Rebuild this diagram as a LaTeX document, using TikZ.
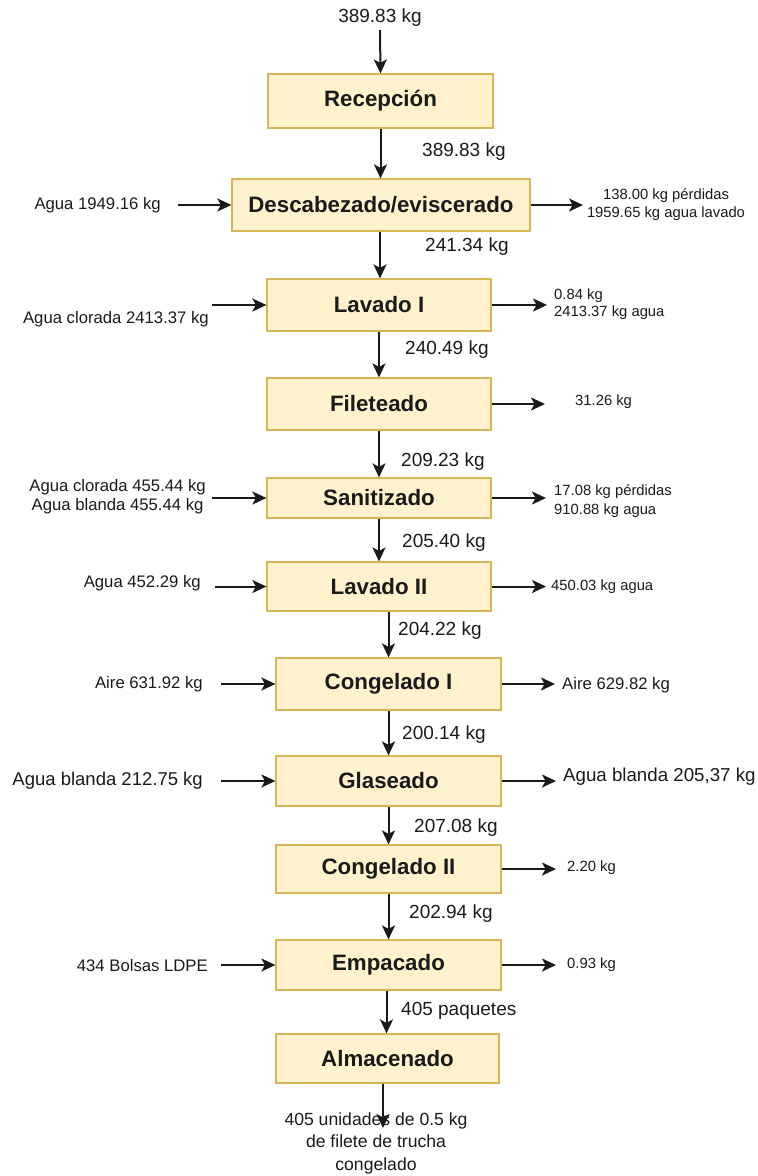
\documentclass[tikz,border=0pt]{standalone}
\usepackage{fontspec}
\setmainfont{Liberation Sans}
\usetikzlibrary{arrows.meta}
\definecolor{boxfill}{HTML}{FFF2CC}
\definecolor{boxline}{HTML}{D6B656}
\definecolor{ink}{HTML}{1A1A1A}
\begin{document}
\begin{tikzpicture}[x=1pt,y=-1pt,
  stage/.style={draw=boxline, fill=boxfill, line width=1.2pt, inner sep=0pt,
    minimum width=225pt, minimum height=52pt,
    font=\fontsize{22.3}{26}\selectfont\bfseries, text=ink},
  flow/.style={draw=ink, line width=2pt, -{Stealth[length=14pt,width=13pt,inset=3.5pt]}},
  qty/.style={font=\fontsize{19}{22}\selectfont, inner sep=0pt, text=ink},
  inlab/.style={font=\fontsize{16.7}{20}\selectfont, inner sep=0pt, text=ink, anchor=east, align=center},
  outlab/.style={font=\fontsize{14.8}{18}\selectfont, inner sep=0pt, text=ink, anchor=west, align=left},
]
\useasboundingbox (0,0) rectangle (758,1176);

% process stages
\node[stage, minimum height=54pt] (rec) at (380.5,101) {Recepción};
\node[stage, minimum width=298pt] (desc) at (381,205) {Descabezado/eviscerado};
\node[stage, minimum width=224pt] (lav1) at (379,305) {Lavado I};
\node[stage, minimum width=224pt] (fil) at (379,404) {Fileteado};
\node[stage, minimum width=224pt, minimum height=40pt] (san) at (379,498) {Sanitizado};
\node[stage, minimum width=224pt, minimum height=49pt] (lav2) at (379,586.5) {Lavado II};
\node[stage] (cong1) at (388.5,684) {Congelado I};
\node[stage, minimum height=50pt] (glas) at (388.5,781) {Glaseado};
\node[stage, minimum height=48pt] (cong2) at (388.5,869) {Congelado II};
\node[stage, minimum height=50pt] (emp) at (388.5,965) {Empacado};
\node[stage, minimum width=223pt, minimum height=49pt] (alm) at (387.5,1058.5) {Almacenado};

% main product flow
\node[qty, inner sep=3pt] (raw) at (380,18) {389.83 kg};
\draw[flow] (raw.south) -- (rec.north);
\draw[flow] (rec.south) -- (desc.north -| rec.south);
\node[qty, anchor=west] (q1) at (422,152) {389.83 kg};
\draw[flow] (desc.south -| lav1.north) ++(1,0) -- ([xshift=1pt]lav1.north);
\node[qty, anchor=west] (q2) at (425,247) {241.34 kg};
\draw[flow] (lav1.south) -- (fil.north);
\node[qty, anchor=west] (q3) at (405,350) {240.49 kg};
\draw[flow] (fil.south) -- (san.north);
\node[qty, anchor=west] (q4) at (401,462) {209.23 kg};
\draw[flow] (san.south) -- (lav2.north);
\node[qty, anchor=west] (q5) at (402,543) {205.40 kg};
\draw[flow] (lav2.south -| cong1.north) -- (cong1.north);
\node[qty, anchor=west] (q6) at (398,631) {204.22 kg};
\draw[flow] (cong1.south) -- (glas.north);
\node[qty, anchor=west] (q7) at (402,735) {200.14 kg};
\draw[flow] (glas.south) -- (cong2.north);
\node[qty, anchor=west] (q8) at (414,828) {207.08 kg};
\draw[flow] (cong2.south) -- (emp.north);
\node[qty, anchor=west] (q9) at (409,914) {202.94 kg};
\draw[flow] ([xshift=-2pt]emp.south) -- ([xshift=-1pt]alm.north);
\node[qty, anchor=west] (q10) at (401,1011) {405 paquetes};

% final product
\coordinate (out) at (383,1128);
\draw[flow] (alm.south -| out) -- (out);
\node[font=\fontsize{17.6}{22.5}\selectfont, inner sep=0pt, text=ink, align=center] (prod) at (376,1143)
  {405 unidades de 0.5 kg\\de filete de trucha\\congelado};

% inputs (left)
\node[inlab] (i1) at (161,205) {Agua 1949.16 kg};
\coordinate (a1) at (178,205);
\draw[flow] (a1) -- (desc.west);
\node[inlab] (i2) at (209,319) {Agua clorada 2413.37 kg};
\coordinate (a2) at (212,305);
\draw[flow] (a2) -- (lav1.west);
\node[inlab, font=\fontsize{16.7}{19}\selectfont] (i3) at (206,497) {Agua clorada 455.44 kg\\Agua blanda 455.44 kg};
\coordinate (a3) at (212,498);
\draw[flow] (a3) -- (san.west);
\node[inlab] (i4) at (201,583) {Agua 452.29 kg};
\coordinate (a4) at (215,586.5);
\draw[flow] (a4) -- (lav2.west);
\node[inlab] (i5) at (203,684) {Aire 631.92 kg};
\coordinate (a5) at (221,684);
\draw[flow] (a5) -- (cong1.west);
\node[inlab, font=\fontsize{18.5}{22}\selectfont] (i6) at (203,781) {Agua blanda 212.75 kg};
\coordinate (a6) at (221,781);
\draw[flow] (a6) -- (glas.west);
\node[inlab] (i7) at (208,966) {434 Bolsas LDPE};
\coordinate (a7) at (221,965);
\draw[flow] (a7) -- (emp.west);

% outputs (right)
\coordinate (b1) at (583,205);
\draw[flow] (desc.east) -- (b1);
\node[outlab, anchor=center, align=center] (o1) at (666,205) {138.00 kg pérdidas\\1959.65 kg agua lavado};
\coordinate (b2) at (547,305);
\draw[flow] (lav1.east) -- (b2);
\node[outlab, font=\fontsize{14.8}{17}\selectfont] (o2) at (554,304) {0.84 kg\\2413.37 kg agua};
\coordinate (b3) at (545,404);
\draw[flow] (fil.east) -- (b3);
\node[outlab] (o3) at (575,402) {31.26 kg};
\coordinate (b4) at (546,498);
\draw[flow] (san.east) -- (b4);
\node[outlab, font=\fontsize{14.8}{19}\selectfont] (o4) at (554,501) {17.08 kg pérdidas\\910.88 kg agua};
\coordinate (b5) at (546,586.5);
\draw[flow] (lav2.east) -- (b5);
\node[outlab] (o5) at (551,587) {450.03 kg agua};
\coordinate (b6) at (555,684);
\draw[flow] (cong1.east) -- (b6);
\node[outlab, font=\fontsize{16.7}{20}\selectfont] (o6) at (562,685) {Aire 629.82 kg};
\coordinate (b7) at (556,781);
\draw[flow] (glas.east) -- (b7);
\node[outlab, font=\fontsize{18.7}{22}\selectfont] (o7) at (563,777) {Agua blanda 205,37 kg};
\coordinate (b8) at (556,869);
\draw[flow] (cong2.east) -- (b8);
\node[outlab] (o8) at (567,868) {2.20 kg};
\coordinate (b9) at (556,965);
\draw[flow] (emp.east) -- (b9);
\node[outlab] (o9) at (567,965) {0.93 kg};
\end{tikzpicture}
\end{document}
